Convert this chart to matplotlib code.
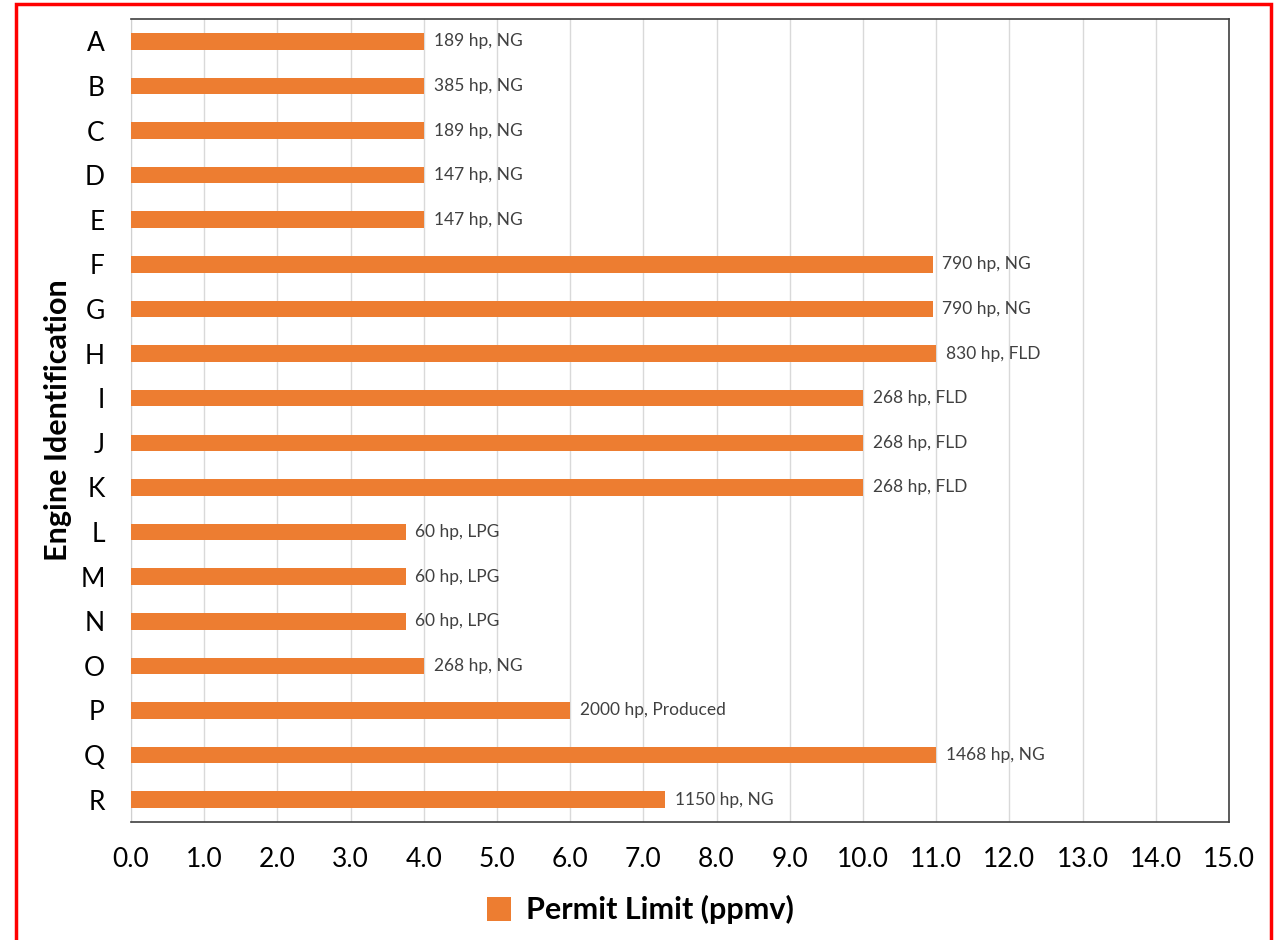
"""Permit limits per engine, horizontal bars annotated with engine size and fuel."""

import matplotlib.pyplot as plt
from matplotlib.patches import Rectangle

plt.rcParams["font.family"] = ["Lato", "DejaVu Sans"]

ENGINES = list("ABCDEFGHIJKLMNOPQR")
PERMIT_LIMIT = [4.0, 4.0, 4.0, 4.0, 4.0, 10.95, 10.95, 11.0, 10.0, 10.0,
                10.0, 3.75, 3.75, 3.75, 4.0, 6.0, 11.0, 7.3]
ENGINE_INFO = ["189 hp, NG", "385 hp, NG", "189 hp, NG", "147 hp, NG",
               "147 hp, NG", "790 hp, NG", "790 hp, NG", "830 hp, FLD",
               "268 hp, FLD", "268 hp, FLD", "268 hp, FLD", "60 hp, LPG",
               "60 hp, LPG", "60 hp, LPG", "268 hp, NG", "2000 hp, Produced",
               "1468 hp, NG", "1150 hp, NG"]
X_TICKS = [float(v) for v in range(16)]

BAR_COLOR = "#ED7D31"

fig = plt.figure(figsize=(12.81, 9.4), dpi=100)
ax = fig.add_axes([0.1023, 0.1255, 0.8571, 0.8543])

y = list(range(len(ENGINES)))
ax.barh(y, PERMIT_LIMIT, height=0.37, color=BAR_COLOR, zorder=3,
        label="Permit Limit (ppmv)")
for yi, v, txt in zip(y, PERMIT_LIMIT, ENGINE_INFO):
    ax.annotate(txt, (v, yi), xytext=(7, 0), textcoords="offset points",
                ha="left", va="center", fontsize=12.5, color="#404040",
                zorder=4)

ax.set_ylim(len(ENGINES) - 0.5, -0.5)
ax.set_yticks(y)
ax.set_yticklabels(ENGINES, fontsize=19)
ax.set_xlim(0, 15)
ax.set_xticks(X_TICKS)
ax.set_xticklabels([f"{v:.1f}" for v in X_TICKS], fontsize=19)
ax.tick_params(length=0)
ax.tick_params(axis="x", pad=18)
ax.tick_params(axis="y", pad=19)
ax.grid(axis="x", color="#d9d9d9", linewidth=1, zorder=0)
ax.set_axisbelow(True)
for side in ("top", "right", "bottom"):
    ax.spines[side].set_color("#404040")
    ax.spines[side].set_linewidth(1.2)
ax.spines["left"].set_color("#d0d0d0")

ax.set_ylabel("Engine Identification", fontsize=22, fontweight="bold",
              labelpad=6)

fig.legend(loc="center", bbox_to_anchor=(0.5, 0.032), frameon=False,
           handlelength=0.8, handleheight=0.8, handletextpad=0.5,
           prop={"size": 22, "weight": "bold"})

# red frame around the whole chart, running off the bottom edge
fig.patches.append(Rectangle((0.0125, -0.02), 0.9797, 1.016,
                             transform=fig.transFigure, fill=False,
                             edgecolor="#ff0000", linewidth=2.5))

fig.savefig("out.png", dpi=100)
